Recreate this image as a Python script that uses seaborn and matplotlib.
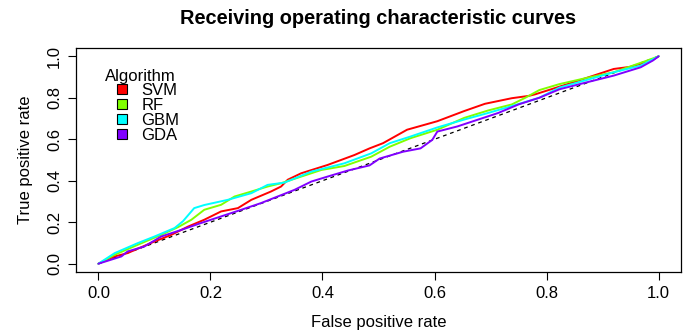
import numpy as np
import pandas as pd
import matplotlib
matplotlib.use("Agg")
import matplotlib.pyplot as plt
from matplotlib.patches import Patch
import seaborn as sns

algorithms = ["SVM", "RF", "GBM", "GDA"]
colors = ["#FF0000", "#80FF00", "#00FFFF", "#8000FF"]

svm_fpr = [0.0, 0.029, 0.052, 0.100, 0.130, 0.160, 0.189, 0.219, 0.249, 0.273, 0.308, 0.326, 0.338,
           0.362, 0.409, 0.457, 0.484, 0.508, 0.551, 0.605, 0.653, 0.690, 0.738, 0.768, 0.780,
           0.847, 0.920, 0.949, 0.986, 1.0]
svm_tpr = [0.0, 0.035, 0.051, 0.107, 0.139, 0.179, 0.212, 0.252, 0.268, 0.308, 0.348, 0.372, 0.405,
           0.436, 0.476, 0.524, 0.556, 0.581, 0.646, 0.687, 0.736, 0.771, 0.798, 0.809, 0.817,
           0.874, 0.939, 0.949, 0.977, 1.0]

rf_fpr = [0.0, 0.029, 0.070, 0.112, 0.142, 0.166, 0.189, 0.219, 0.243, 0.273, 0.302, 0.326, 0.362,
          0.398, 0.439, 0.487, 0.520, 0.557, 0.605, 0.653, 0.696, 0.738, 0.762, 0.787, 0.823,
          0.877, 0.920, 0.980, 1.0]
rf_tpr = [0.0, 0.043, 0.091, 0.139, 0.176, 0.212, 0.260, 0.284, 0.324, 0.348, 0.372, 0.388, 0.420,
          0.452, 0.471, 0.516, 0.564, 0.605, 0.646, 0.703, 0.739, 0.768, 0.800, 0.837, 0.866,
          0.899, 0.923, 0.980, 1.0]

gbm_fpr = [0.0, 0.029, 0.070, 0.100, 0.136, 0.151, 0.171, 0.189, 0.231, 0.273, 0.302, 0.332, 0.380,
           0.439, 0.487, 0.520, 0.557, 0.605, 0.653, 0.696, 0.738, 0.787, 0.823, 0.877, 0.920,
           0.968, 1.0]
gbm_tpr = [0.0, 0.051, 0.099, 0.131, 0.172, 0.205, 0.268, 0.283, 0.308, 0.340, 0.380, 0.391, 0.444,
           0.484, 0.532, 0.581, 0.613, 0.657, 0.695, 0.727, 0.760, 0.800, 0.849, 0.890, 0.923,
           0.955, 1.0]

gda_fpr = [0.0, 0.041, 0.052, 0.082, 0.112, 0.148, 0.183, 0.219, 0.255, 0.290, 0.320, 0.350, 0.380,
           0.409, 0.445, 0.484, 0.502, 0.544, 0.575, 0.596, 0.605, 0.641, 0.678, 0.714, 0.750,
           0.787, 0.823, 0.871, 0.920, 0.968, 0.990, 1.0]
gda_tpr = [0.0, 0.035, 0.059, 0.083, 0.131, 0.163, 0.196, 0.228, 0.260, 0.292, 0.324, 0.356, 0.396,
           0.420, 0.449, 0.474, 0.507, 0.540, 0.556, 0.597, 0.637, 0.662, 0.695, 0.727, 0.768,
           0.800, 0.841, 0.874, 0.907, 0.947, 0.980, 1.0]

xticks = [0.0, 0.2, 0.4, 0.6, 0.8, 1.0]
yticks = [0.0, 0.2, 0.4, 0.6, 0.8, 1.0]
tick_labels = ["0.0", "0.2", "0.4", "0.6", "0.8", "1.0"]

frames = []
for name, fx, ty in zip(algorithms, [svm_fpr, rf_fpr, gbm_fpr, gda_fpr],
                        [svm_tpr, rf_tpr, gbm_tpr, gda_tpr]):
    frames.append(pd.DataFrame({"fpr": fx, "tpr": ty, "Algorithm": name,
                                "order": np.arange(len(fx))}))
df = pd.concat(frames, ignore_index=True)

sns.set_theme(style="white")
plt.rcParams["font.family"] = ["Liberation Sans", "DejaVu Sans"]

fig = plt.figure(figsize=(6.85, 3.35), dpi=100)
ax = fig.add_axes([76 / 685, 1 - 272 / 335, (681 - 76) / 685, (272 - 48) / 335])

ax.plot([0, 1], [0, 1], color="black", linestyle=(0, (3, 3)), linewidth=0.9, zorder=1)
sns.lineplot(data=df, x="fpr", y="tpr", hue="Algorithm", hue_order=algorithms,
             palette=colors, sort=False, estimator=None, units="Algorithm",
             linewidth=1.4, ax=ax, legend=False, zorder=2)

ax.set_xlim(-0.04, 1.04)
ax.set_ylim(-0.04, 1.04)
ax.set_xticks(xticks)
ax.set_xticklabels(tick_labels, fontsize=12)
ax.set_yticks(yticks)
ax.set_yticklabels(tick_labels, fontsize=12, rotation=90, va="center")
ax.tick_params(axis="both", direction="out", length=6, width=0.8, color="black",
               labelcolor="black", bottom=True, left=True)
ax.tick_params(axis="x", pad=4)
ax.tick_params(axis="y", pad=4)
for s in ax.spines.values():
    s.set_visible(True)
    s.set_color("black")
    s.set_linewidth(0.9)

ax.set_xlabel("False positive rate", fontsize=12, color="black", labelpad=10)
ax.set_ylabel("True positive rate", fontsize=12, color="black", labelpad=10)
fig.text(378 / 685, 1 - 19 / 335, "Receiving operating characteristic curves",
         fontsize=14.4, fontweight="bold", ha="center", va="center", color="black")

ax.text(0.048, 0.875, "Algorithm", transform=ax.transAxes, fontsize=12,
        ha="left", va="center", color="black")
handles = [Patch(facecolor=c, edgecolor="black", linewidth=0.8) for c in colors]
leg = ax.legend(handles, algorithms, loc="upper left", bbox_to_anchor=(0.067, 0.845),
                frameon=False, fontsize=12, handlelength=0.6, handleheight=0.6,
                handletextpad=0.9, labelspacing=0.0, borderpad=0.0, borderaxespad=0.0)
for t in leg.get_texts():
    t.set_color("black")

fig.savefig("out.png", dpi=100)
